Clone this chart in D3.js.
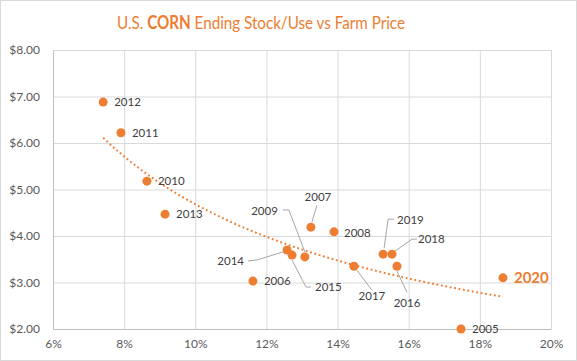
<!DOCTYPE html>
<html lang="en">
<head>
<meta charset="UTF-8">
<title>U.S. CORN Ending Stock/Use vs Farm Price</title>
<script src="https://d3js.org/d3.v7.min.js"></script>
<style>
  body { margin: 0; background: #fff; }
  text { font-family: Lato, "Open Sans", sans-serif; }
</style>
</head>
<body>
<script>
// marketing years, ending stock/use (%) and farm price ($/bu)
var years = ["2005","2006","2007","2008","2009","2010","2011","2012","2013","2014","2015","2016","2017","2018","2019","2020"];
var stockUse = [17.47, 11.62, 13.25, 13.9, 13.08, 8.64, 7.91, 7.41, 9.15, 12.58, 12.72, 15.67, 14.46, 15.53, 15.28, 18.65];
var price = [2.00, 3.03, 4.19, 4.09, 3.55, 5.18, 6.22, 6.88, 4.47, 3.70, 3.59, 3.35, 3.35, 3.61, 3.61, 3.10];
var xTicks = [6, 8, 10, 12, 14, 16, 18, 20];
var yTicks = [2, 3, 4, 5, 6, 7, 8];

// label placement: [dx, dy] from point, leader polyline (relative to point) or null
var labelPos = {
  "2005": { dx: 11, dy: 0 },
  "2006": { dx: 11, dy: 0 },
  "2007": { dx: 7, dy: -30, anchor: "middle", leader: [[1, -5], [6, -22]] },
  "2008": { dx: 10, dy: 1 },
  "2009": { dx: -27, dy: -46, anchor: "end", leader: [[0, -5], [-16, -47], [-22, -47]] },
  "2010": { dx: 11, dy: 0 },
  "2011": { dx: 11, dy: 0 },
  "2012": { dx: 11, dy: 0 },
  "2013": { dx: 11, dy: 0 },
  "2014": { dx: -43, dy: 11, anchor: "end", leader: [[-4, 2], [-30, 10], [-39, 11]] },
  "2015": { dx: 23, dy: 32, leader: [[0, 5], [14, 32], [19, 32]] },
  "2016": { dx: 10, dy: 37, anchor: "middle", leader: [[0, 5], [10, 26]] },
  "2017": { dx: 18, dy: 30, anchor: "middle", leader: [[3, 4], [18, 24]] },
  "2018": { dx: 26, dy: -15, leader: [[3, -3], [20, -15], [25, -15]] },
  "2019": { dx: 14, dy: -34, leader: [[1, -6], [5, -35], [11, -35]] },
  "2020": { dx: 11, dy: 0, big: true }
};

var orange = "#ED7D31";
var W = 577, H = 361;
var svg = d3.select("body").append("svg")
    .attr("width", W)
    .attr("height", H);

// outer chart border
svg.append("rect")
    .attr("x", 0.5).attr("y", 0.5)
    .attr("width", W - 1).attr("height", H - 1)
    .attr("fill", "#fff")
    .attr("stroke", "#d9d9d9");

var x = d3.scaleLinear().domain([6, 20]).range([53, 551]);
var y = d3.scaleLinear().domain([2, 8]).range([329, 50]);

// title (squeezed to the width of the original narrow font)
var titleG = svg.append("g");
var title = titleG.append("text")
    .attr("x", 0).attr("y", 0)
    .attr("text-anchor", "middle")
    .attr("fill", orange)
    .style("font-size", "18px");
title.append("tspan").text("U.S. ");
title.append("tspan").style("font-weight", "bold").text("CORN");
title.append("tspan").text(" Ending Stock/Use vs Farm Price");
var tw = title.node().getComputedTextLength();
titleG.attr("transform", "translate(261,29) scale(" + (288 / tw) + ",1)");

// gridlines
svg.append("g")
    .attr("transform", "translate(0," + y(2) + ")")
    .call(d3.axisBottom(x).tickValues(xTicks).tickSize(-(y(2) - y(8))).tickFormat(""))
    .call(function (g) { g.select(".domain").remove(); })
    .selectAll("line").attr("stroke", "#d9d9d9");

svg.append("g")
    .attr("transform", "translate(" + x(6) + ",0)")
    .call(d3.axisLeft(y).tickValues(yTicks).tickSize(-(x(20) - x(6))).tickFormat(""))
    .call(function (g) { g.select(".domain").remove(); })
    .selectAll("line").attr("stroke", "#d9d9d9");

// axis labels
var xAxis = svg.append("g")
    .attr("transform", "translate(0," + y(2) + ")")
    .call(d3.axisBottom(x).tickValues(xTicks).tickSize(0).tickPadding(10).tickFormat(function (d) { return d + "%"; }));
xAxis.select(".domain").attr("stroke", "#bfbfbf");
xAxis.selectAll("text").attr("fill", "#595959").style("font-size", "12px").style("font-family", "Lato, sans-serif");

var yAxis = svg.append("g")
    .attr("transform", "translate(" + x(6) + ",0)")
    .call(d3.axisLeft(y).tickValues(yTicks).tickSize(0).tickPadding(13).tickFormat(d3.format("$.2f")));
yAxis.select(".domain").attr("stroke", "#bfbfbf");
yAxis.selectAll("text").attr("fill", "#595959").style("font-size", "12px").style("font-family", "Lato, sans-serif");

// power trendline fitted to the points (least squares on log-log)
var pts = years.map(function (yr, i) { return { year: yr, x: stockUse[i], y: price[i] }; });
var lx = pts.map(function (p) { return Math.log(p.x); });
var ly = pts.map(function (p) { return Math.log(p.y); });
var mx = d3.mean(lx), my = d3.mean(ly);
var b = d3.sum(lx, function (v, i) { return (v - mx) * (ly[i] - my); }) / d3.sum(lx, function (v) { return (v - mx) * (v - mx); });
var a = Math.exp(my - b * mx);
var xs = d3.extent(stockUse);
var trend = d3.range(xs[0], xs[1] + 0.001, (xs[1] - xs[0]) / 60).map(function (v) { return [v, a * Math.pow(v, b)]; });

svg.append("path")
    .datum(trend)
    .attr("fill", "none")
    .attr("stroke", orange)
    .attr("stroke-width", 2)
    .attr("stroke-dasharray", "1.8,2.7")
    .attr("d", d3.line().x(function (d) { return x(d[0]); }).y(function (d) { return y(d[1]); }));

// leader lines
pts.forEach(function (p) {
  var lp = labelPos[p.year];
  if (!lp.leader) return;
  var px = x(p.x), py = y(p.y);
  svg.append("path")
      .attr("fill", "none")
      .attr("stroke", "#a6a6a6")
      .attr("stroke-width", 1)
      .attr("d", d3.line()(lp.leader.map(function (q) { return [px + q[0], py + q[1]]; })));
});

// points
svg.append("g").selectAll("circle")
    .data(pts)
    .enter().append("circle")
    .attr("cx", function (d) { return x(d.x); })
    .attr("cy", function (d) { return y(d.y); })
    .attr("r", 4.5)
    .attr("fill", orange);

// labels
svg.append("g").selectAll("text")
    .data(pts)
    .enter().append("text")
    .attr("x", function (d) { return x(d.x) + labelPos[d.year].dx; })
    .attr("y", function (d) { return y(d.y) + labelPos[d.year].dy; })
    .attr("dy", "0.35em")
    .attr("text-anchor", function (d) { return labelPos[d.year].anchor || "start"; })
    .attr("fill", function (d) { return labelPos[d.year].big ? orange : "#404040"; })
    .style("font-size", function (d) { return labelPos[d.year].big ? "15px" : "11.5px"; })
    .style("font-weight", function (d) { return labelPos[d.year].big ? "bold" : "normal"; })
    .text(function (d) { return d.year; });
</script>
</body>
</html>
